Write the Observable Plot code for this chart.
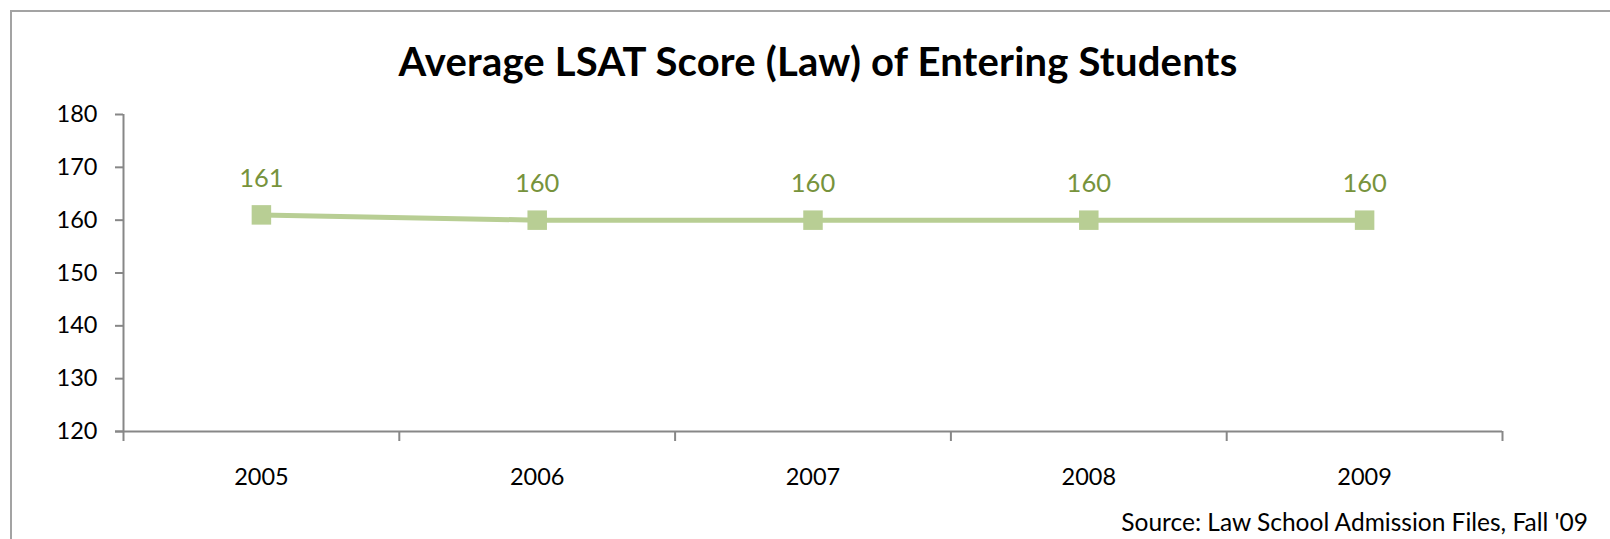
<!DOCTYPE html>
<html>
<head>
<meta charset="utf-8">
<script src="https://cdn.jsdelivr.net/npm/d3@7"></script>
<script src="https://cdn.jsdelivr.net/npm/@observablehq/plot@0.6"></script>
<style>
  html, body { margin: 0; padding: 0; background: #fff; }
  body { width: 1610px; height: 539px; overflow: hidden; position: relative; font-family: Lato, "Open Sans", sans-serif; }
  #frame { position: absolute; left: 10px; top: 10px; width: 1700px; height: 700px; border-left: 2px solid #a3a3a3; border-top: 2px solid #a3a3a3; box-sizing: border-box; }
  #title { position: absolute; left: 0; top: 0; width: 1636px; height: 95px; line-height: 122px; text-align: center; font-weight: bold; font-size: 40px; letter-spacing: 0.2px; color: #000; }
  #chart { position: absolute; left: 0; top: 95px; }
  #source { position: absolute; right: 22px; top: 505px; font-size: 24.5px; color: #000; line-height: 34px; }
</style>
</head>
<body>
<div id="frame"></div>
<div id="title">Average LSAT Score (Law) of Entering Students</div>
<div id="chart"></div>
<div id="source">Source: Law School Admission Files, Fall '09</div>
<script>
const years = [2005, 2006, 2007, 2008, 2009];
const scores = [161, 160, 160, 160, 160];
const yTicks = [120, 130, 140, 150, 160, 170, 180];

const data = years.map((y, i) => ({year: y, score: scores[i]}));
const boundaries = [years[0] - 0.5, ...years.map(y => y + 0.5)];

const lineColor = "#b8ce94";
const labelColor = "#77933c";
const axisColor = "#878787";

const plot = Plot.plot({
  width: 1610,
  height: 405,
  marginLeft: 123,
  marginRight: 108,
  marginTop: 19,
  marginBottom: 69,
  style: {fontFamily: "Lato, 'Open Sans', sans-serif", background: "transparent"},
  x: {type: "linear", domain: [years[0] - 0.5, years[years.length - 1] + 0.5]},
  y: {domain: [120, 180]},
  marks: [
    Plot.ruleX([years[0] - 0.5], {stroke: axisColor, strokeWidth: 2}),
    Plot.ruleY([120], {stroke: axisColor, strokeWidth: 2, insetLeft: -8}),
    Plot.axisY(yTicks, {tickSize: 8, tickPadding: 18, stroke: axisColor, strokeWidth: 2, fontSize: 23.5, fill: "#000", label: null, tickFormat: d => String(d)}),
    Plot.axisX(years, {tickSize: 0, tickPadding: 37, fontSize: 23.5, fill: "#000", label: null, tickFormat: d => String(d)}),
    Plot.axisX(boundaries, {tickSize: 10, tickFormat: () => "", stroke: axisColor, strokeWidth: 2, label: null}),
    Plot.line(data, {x: "year", y: "score", stroke: lineColor, strokeWidth: 5}),
    Plot.dot(data, {x: "year", y: "score", symbol: "square", r: 11, fill: lineColor, stroke: "none"}),
    Plot.text(data, {x: "year", y: "score", text: d => String(d.score), dy: -36, fill: labelColor, fontSize: 25.5})
  ]
});
document.getElementById("chart").appendChild(plot);
</script>
</body>
</html>
